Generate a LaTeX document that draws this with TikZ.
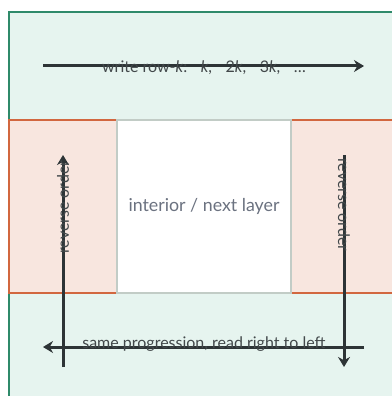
\documentclass[tikz,border=0pt]{standalone}
\usepackage{fontspec}
\setmainfont{Lato}
\usetikzlibrary{arrows.meta}

\definecolor{ringfill}{HTML}{E6F4EF}
\definecolor{ringline}{HTML}{2F8A6A}
\definecolor{sidefill}{HTML}{F8E6DF}
\definecolor{sideline}{HTML}{D2673F}
\definecolor{coreline}{HTML}{C2CCC6}
\definecolor{arrowcol}{HTML}{2D3436}
\definecolor{coretext}{HTML}{6B7280}

\tikzset{
  flow/.style={draw=arrowcol, line width=3pt, -{Stealth[length=10pt,width=12pt]}},
  flowlabel/.style={text=arrowcol!90, font=\fontsize{16}{19}\selectfont, inner sep=0pt},
  sidebox/.style={fill=sidefill, draw=sideline, line width=2.2pt},
}

\begin{document}
\begin{tikzpicture}[x=1pt,y=-1pt]
        \useasboundingbox (0,0) rectangle (391,396);

        % Outer ring
        \draw[fill=ringfill, draw=ringline, line width=2.4pt] (9,12) rectangle (420,420);

        % Side strips and interior
        \draw[sidebox] (9,120) rectangle (117,293);
        \draw[sidebox] (291,120) rectangle (420,293);
        \draw[fill=white, draw=coreline, line width=1.8pt] (117,120) rectangle (291,293);
        \node[text=coretext, font=\fontsize{17.8}{21}\selectfont] (core) at (204,206) {interior / next layer};

        % Top row, left to right
        \coordinate (topA) at (43,66);
        \coordinate (topB) at (364,66);
        \draw[flow] (topA) -- (topB);
        \node[flowlabel] (toplabel) at (204,68) {write row-\textit{k}:\hspace{0.85em}\textit{k},\hspace{0.85em}2\textit{k},\hspace{0.85em}3\textit{k},\hspace{0.85em}\dots};

        % Left column, upwards
        \coordinate (leftA) at (63,367);
        \coordinate (leftB) at (63,155);
        \draw[flow] (leftA) -- (leftB);
        \node[flowlabel, rotate=90] (leftlabel) at (63,207) {reverse order};

        % Right column, downwards
        \coordinate (rightA) at (344,155);
        \coordinate (rightB) at (344,367);
        \draw[flow] (rightA) -- (rightB);
        \node[flowlabel, rotate=-90] (rightlabel) at (344,205) {reverse order};

        % Bottom row, right to left
        \coordinate (botA) at (364,347);
        \coordinate (botB) at (43,347);
        \draw[flow] (botA) -- (botB);
        \node[flowlabel] (botlabel) at (204,344) {same progression, read right to left};
    \end{tikzpicture}
\end{document}
